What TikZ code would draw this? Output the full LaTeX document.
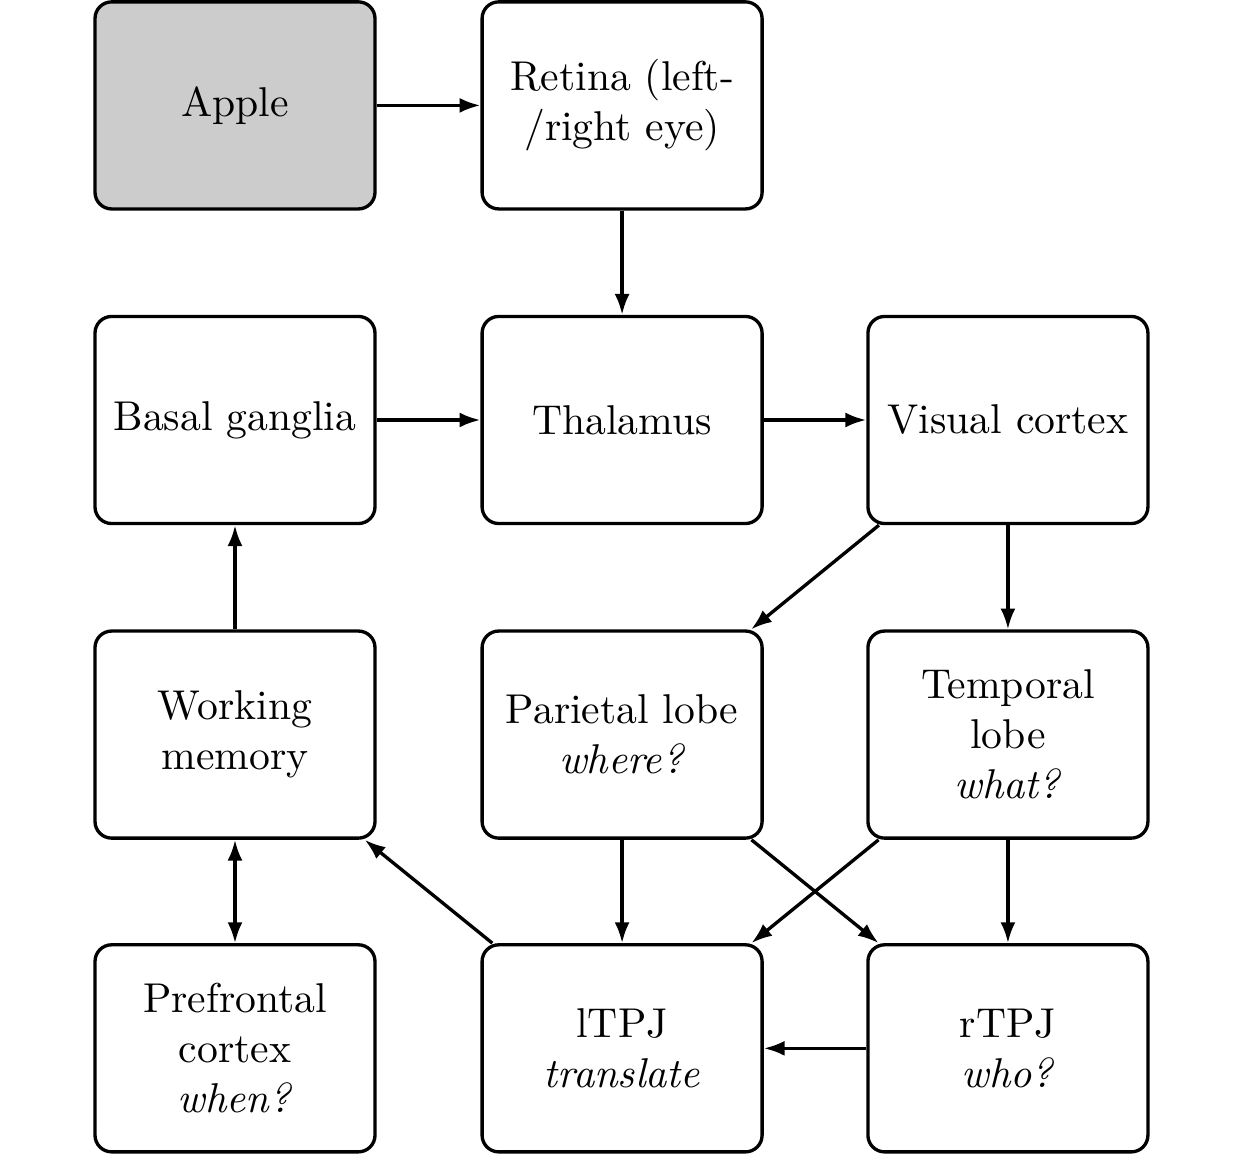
\documentclass[tikz,border=0pt]{standalone}
\usetikzlibrary{arrows.meta}
\begin{document}
\begin{tikzpicture}[x=1pt,y=1pt,
  box/.style={draw,thick,rounded corners=4pt,minimum width=67.2pt,minimum height=49.7pt,text width=60pt,align=center,inner sep=0pt},
  arr/.style={thick,-{Latex[length=5pt,width=3.6pt]}},
  darr/.style={thick,{Latex[length=5pt,width=3.6pt]}-{Latex[length=5pt,width=3.6pt]}}]
\useasboundingbox (0,0) rectangle (298.8,-277.2);
\node[box,fill=black!20] (apple) at (56.4,-25.3) {Apple};
\node[box] (retina) at (149.3,-25.3) {Retina (left-/right eye)};
\node[box] (basal) at (56.4,-100.8) {Basal ganglia};
\node[box] (thal) at (149.3,-100.8) {Thalamus};
\node[box] (vis) at (241.9,-100.8) {Visual cortex};
\node[box] (wm) at (56.4,-176.3) {Working memory};
\node[box] (par) at (149.3,-176.3) {Parietal lobe\\\textit{where?}};
\node[box] (temp) at (241.9,-176.3) {Temporal lobe\\\textit{what?}};
\node[box] (pfc) at (56.4,-251.6) {Prefrontal cortex\\\textit{when?}};
\node[box] (ltpj) at (149.3,-251.6) {lTPJ\\\textit{translate}};
\node[box] (rtpj) at (241.9,-251.6) {rTPJ\\\textit{who?}};
\draw[arr] (apple) -- (retina);
\draw[arr] (retina) -- (thal);
\draw[arr] (basal) -- (thal);
\draw[arr] (thal) -- (vis);
\draw[arr] (vis) -- (par);
\draw[arr] (vis) -- (temp);
\draw[arr] (wm) -- (basal);
\draw[darr] (pfc) -- (wm);
\draw[arr] (ltpj) -- (wm);
\draw[arr] (par) -- (ltpj);
\draw[arr] (par) -- (rtpj);
\draw[arr] (temp) -- (ltpj);
\draw[arr] (temp) -- (rtpj);
\draw[arr] (rtpj) -- (ltpj);
\end{tikzpicture}
\end{document}
